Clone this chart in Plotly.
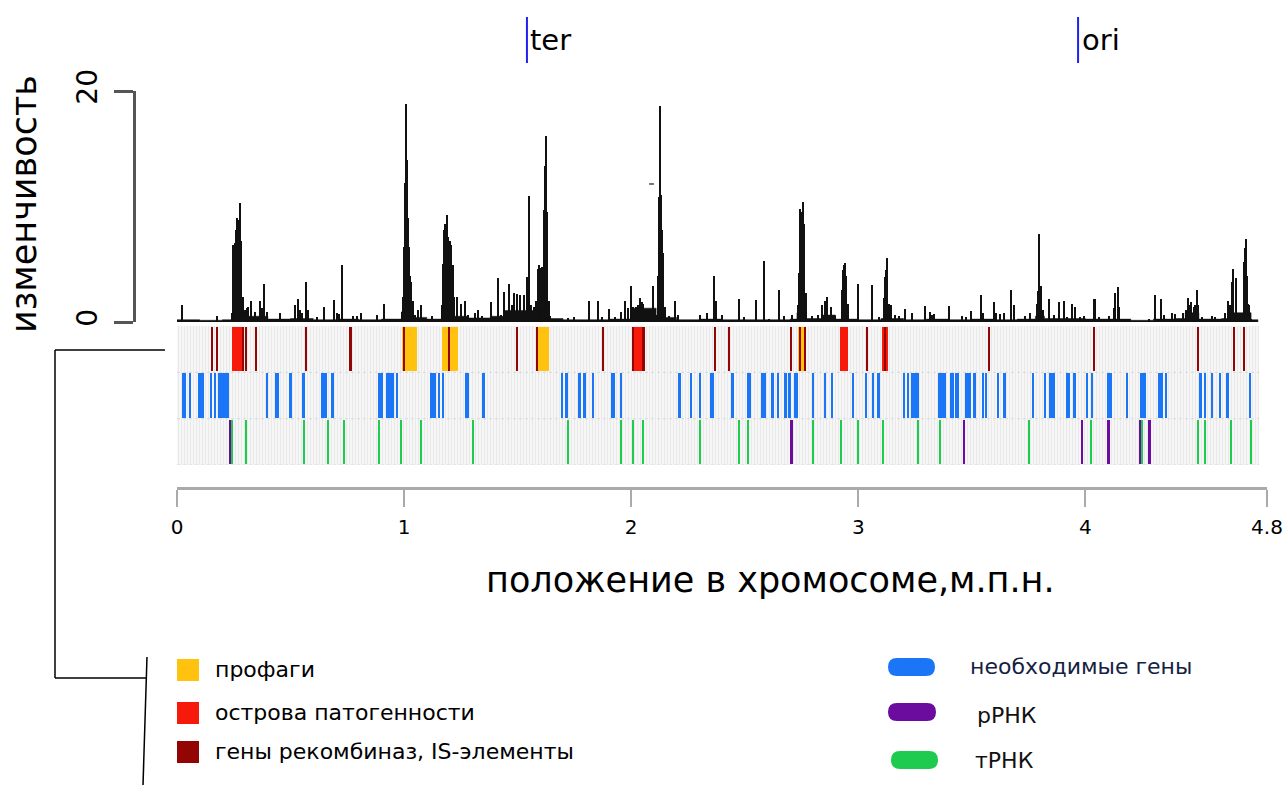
import plotly.graph_objects as go

W, H = 1287, 785
GENOME_LEN = 4.766

# ---- variability signal (spikes), Mb / value ----
sig_pos = [0.023, 0.175, 0.241, 0.248, 0.254, 0.260, 0.266, 0.270, 0.273, 0.278, 0.281, 0.289, 0.300, 0.307,
           0.314, 0.326, 0.344, 0.366, 0.376, 0.385, 0.395, 0.454, 0.520, 0.532, 0.542, 0.549, 0.568, 0.579,
           0.615, 0.649, 0.693, 0.703, 0.714, 0.728, 0.777, 0.791, 0.811, 0.880, 0.913, 0.953, 0.990, 0.997,
           1.001, 1.004, 1.007, 1.010, 1.013, 1.018, 1.022, 1.026, 1.032, 1.038, 1.048, 1.063, 1.075, 1.122,
           1.166, 1.173, 1.178, 1.182, 1.186, 1.191, 1.195, 1.201, 1.207, 1.214, 1.222, 1.232, 1.250, 1.269,
           1.283, 1.313, 1.327, 1.342, 1.382, 1.413, 1.427, 1.442, 1.460, 1.474, 1.486, 1.496, 1.511, 1.526,
           1.541, 1.548, 1.552, 1.559, 1.570, 1.580, 1.589, 1.595, 1.601, 1.607, 1.614, 1.618, 1.622, 1.626,
           1.630, 1.636, 1.643, 1.724, 1.750, 1.815, 1.852, 1.871, 1.903, 1.930, 1.956, 1.974, 1.985, 1.999,
           2.010, 2.021, 2.030, 2.040, 2.047, 2.054, 2.065, 2.076, 2.085, 2.096, 2.106, 2.113, 2.119, 2.123,
           2.126, 2.128, 2.132, 2.137, 2.141, 2.147, 2.165, 2.194, 2.208, 2.304, 2.333, 2.363, 2.373, 2.400,
           2.473, 2.495, 2.549, 2.585, 2.605, 2.649, 2.671, 2.708, 2.733, 2.737, 2.742, 2.744, 2.749, 2.753,
           2.756, 2.761, 2.763, 2.768, 2.796, 2.822, 2.840, 2.852, 2.862, 2.881, 2.899, 2.928, 2.934, 2.938,
           2.943, 2.947, 2.953, 2.957, 2.999, 3.060, 3.090, 3.112, 3.119, 3.123, 3.126, 3.134, 3.145, 3.163,
           3.178, 3.204, 3.236, 3.295, 3.314, 3.325, 3.335, 3.398, 3.457, 3.474, 3.498, 3.540, 3.548, 3.598,
           3.608, 3.626, 3.640, 3.671, 3.684, 3.736, 3.755, 3.787, 3.791, 3.797, 3.802, 3.806, 3.812, 3.838,
           3.861, 3.882, 3.905, 3.919, 3.941, 3.953, 3.978, 3.993, 4.037, 4.044, 4.059, 4.103, 4.125, 4.132,
           4.142, 4.147, 4.176, 4.279, 4.305, 4.333, 4.345, 4.382, 4.396, 4.429, 4.443, 4.452, 4.460, 4.467,
           4.477, 4.485, 4.492, 4.497, 4.514, 4.558, 4.573, 4.617, 4.629, 4.639, 4.645, 4.652, 4.662, 4.672,
           4.683, 4.697, 4.705, 4.709, 4.714, 4.717, 4.722, 4.728]
sig_val = [1.5, 0.5, 0.8, 6.7, 6.8, 8.0, 9.0, 8.5, 8.8, 10.3, 7.0, 2.2, 1.0, 1.2,
           1.3, 1.8, 0.9, 1.8, 1.2, 3.3, 0.9, 0.75, 1.5, 2.0, 1.0, 0.8, 3.5, 1.0,
           0.4, 1.3, 1.9, 0.8, 0.7, 4.9, 0.5, 0.5, 0.8, 0.6, 1.6, 0.3, 0.9, 2.2,
           6.5, 12.0, 18.9, 17.5, 14.0, 9.0, 6.5, 4.0, 3.5, 1.8, 0.6, 1.0, 1.5, 0.5,
           1.5, 5.0, 8.0, 8.5, 8.3, 9.3, 7.4, 7.0, 6.7, 4.9, 2.2, 2.2, 1.6, 1.8,
           0.6, 0.8, 1.0, 0.5, 1.7, 3.8, 0.6, 2.6, 3.3, 1.5, 2.5, 2.4, 2.3, 2.3,
           3.9, 6.0, 10.9, 1.5, 1.3, 1.8, 4.6, 4.9, 4.7, 4.8, 7.0, 9.7, 13.5, 16.1,
           9.5, 1.8, 0.5, 0.35, 0.45, 1.8, 1.8, 0.4, 1.1, 0.45, 0.9, 1.8, 1.2, 3.1,
           1.3, 1.3, 1.5, 2.1, 1.7, 1.6, 1.1, 0.9, 0.7, 3.1, 1.0, 0.6, 4.0, 10.8,
           14.0, 18.7, 11.0, 8.0, 6.0, 1.3, 0.5, 1.8, 0.6, 0.6, 0.75, 4.0, 1.8, 0.6,
           2.0, 0.4, 1.9, 5.3, 0.3, 2.8, 0.5, 0.6, 1.5, 4.2, 8.5, 9.8, 9.5, 9.0,
           10.4, 8.5, 7.0, 2.5, 0.5, 0.6, 1.5, 1.8, 2.2, 1.3, 0.5, 2.8, 4.5, 4.9,
           5.1, 4.0, 1.6, 1.5, 3.3, 3.2, 0.4, 2.1, 3.9, 4.5, 5.5, 1.6, 1.5, 0.6,
           0.5, 1.1, 0.8, 1.4, 0.9, 0.6, 0.7, 1.4, 0.5, 0.4, 0.95, 2.3, 0.8, 1.7,
           0.8, 0.7, 0.8, 2.8, 1.5, 0.5, 0.8, 1.6, 2.7, 7.6, 3.0, 3.1, 1.0, 2.0,
           0.6, 1.7, 1.8, 0.4, 1.6, 1.3, 0.4, 0.5, 2.0, 2.0, 0.4, 0.5, 1.2, 2.5,
           3.0, 1.3, 0.3, 0.3, 2.3, 2.0, 0.6, 0.8, 0.7, 0.8, 1.0, 2.1, 1.5, 1.7,
           1.3, 1.5, 2.8, 1.5, 0.4, 0.5, 0.4, 0.8, 1.8, 1.5, 3.5, 4.6, 3.8, 0.8,
           0.8, 5.2, 6.4, 7.2, 4.0, 1.6, 1.5, 0.3]

# low background level of the signal (step starts, Mb / value)
base_pos = [0.0, 0.1, 0.2, 0.245, 0.30, 0.40, 0.5, 0.6, 0.7, 0.8, 0.9, 0.99, 1.04, 1.1, 1.165, 1.22,
            1.28, 1.38, 1.44, 1.6, 1.7, 1.8, 1.9, 2.0, 2.11, 2.2, 2.3, 2.4, 2.5, 2.6, 2.7, 2.73,
            2.77, 2.84, 2.9, 3.0, 3.1, 3.2, 3.3, 3.4, 3.5, 3.6, 3.7, 3.78, 3.82, 3.9, 4.0, 4.1,
            4.2, 4.3, 4.4, 4.44, 4.5, 4.6, 4.63, 4.73, 4.76]
base_val = [0.2, 0.15, 0.2, 0.8, 0.5, 0.25, 0.3, 0.2, 0.25, 0.2, 0.25, 0.9, 0.4, 0.25, 1.2, 0.5,
            0.35, 0.5, 1.0, 0.3, 0.2, 0.2, 0.25, 1.2, 0.4, 0.2, 0.25, 0.2, 0.2, 0.2, 0.25, 0.8,
            0.3, 0.6, 0.25, 0.2, 0.3, 0.2, 0.25, 0.2, 0.25, 0.2, 0.25, 0.5, 0.3, 0.3, 0.25, 0.25,
            0.15, 0.25, 0.3, 0.8, 0.25, 0.3, 0.8, 0.2, 0.0]

dash_x = [2.079, 2.100]
dash_y = [11.95, 11.95]

# ---- genome features (Mb) ----
prophage_start = [0.993, 1.166, 1.580, 2.733]
prophage_end = [1.056, 1.237, 1.636, 2.770]
island_start = [0.241, 2.006, 2.921, 3.104]
island_end = [0.288, 2.047, 2.957, 3.131]
recomb_pos = [0.156, 0.178, 0.289, 0.304, 0.348, 0.567, 0.764, 1.001, 1.197, 1.496, 1.586, 1.877,
              2.009, 2.050, 2.058, 2.370, 2.432, 2.703, 2.743, 2.767, 3.038, 3.119, 3.577, 4.038,
              4.496, 4.653, 4.699]
ess_start = [0.023, 0.053, 0.093, 0.147, 0.163, 0.179, 0.392, 0.432, 0.495, 0.552, 0.636, 0.678,
             0.887, 0.921, 0.965, 1.115, 1.150, 1.167, 1.267, 1.344, 1.690, 1.713, 1.768, 1.790,
             1.828, 1.909, 1.949, 2.208, 2.257, 2.298, 2.347, 2.438, 2.511, 2.573, 2.615, 2.640,
             2.674, 2.695, 2.719, 2.796, 2.852, 2.880, 2.974, 3.031, 3.060, 3.081, 3.198, 3.215,
             3.232, 3.351, 3.405, 3.428, 3.468, 3.507, 3.543, 3.559, 3.612, 3.639, 3.765, 3.819,
             3.841, 3.916, 3.947, 4.001, 4.025, 4.094, 4.106, 4.179, 4.241, 4.322, 4.352, 4.502,
             4.521, 4.554, 4.587, 4.619, 4.721]
ess_end = [0.038, 0.060, 0.119, 0.154, 0.170, 0.231, 0.401, 0.451, 0.508, 0.562, 0.659, 0.690,
           0.909, 0.955, 0.974, 1.140, 1.160, 1.176, 1.285, 1.358, 1.699, 1.721, 1.780, 1.799,
           1.837, 1.930, 1.959, 2.219, 2.266, 2.307, 2.366, 2.454, 2.529, 2.593, 2.627, 2.649,
           2.686, 2.703, 2.734, 2.806, 2.860, 2.889, 2.981, 3.038, 3.069, 3.096, 3.208, 3.225,
           3.267, 3.388, 3.420, 3.442, 3.498, 3.520, 3.552, 3.568, 3.621, 3.649, 3.775, 3.828,
           3.868, 3.934, 3.959, 4.010, 4.034, 4.103, 4.118, 4.189, 4.267, 4.341, 4.361, 4.515,
           4.530, 4.562, 4.596, 4.631, 4.730]
rrna_pos = [0.233, 2.706, 3.466, 3.985, 4.101, 4.241, 4.281]
trna_pos = [0.244, 0.304, 0.559, 0.664, 0.736, 0.890, 0.985, 1.076, 1.304, 1.720, 1.954, 2.007,
            2.050, 2.304, 2.473, 2.514, 2.799, 2.924, 2.999, 3.107, 3.264, 3.361, 3.750, 4.023,
            4.248, 4.496, 4.526, 4.640, 4.731]

TER, ORI = 1.541, 3.968
x_ticks = [0, 1, 2, 3, 4, 4.8]
x_ticktext = ["0", "1", "2", "3", "4", "4.8"]

C_PRO, C_ISL, C_REC = "#ffc20e", "#f71a0a", "#930505"
C_ESS, C_RRNA, C_TRNA = "#1a76f7", "#6b0c9e", "#1fcb4f"
FONT = "DejaVu Sans"


def px(x):
    return x / W


def py(y):
    return 1 - y / H


fig = go.Figure()

# signal
fig.add_trace(go.Scatter(x=base_pos, y=base_val, mode="lines", line_shape="hv",
                         line=dict(color="#111", width=0.5), fill="tozeroy",
                         fillcolor="#111", xaxis="x", yaxis="y", hoverinfo="skip"))
fig.add_trace(go.Bar(x=sig_pos, y=sig_val, width=0.0045, marker=dict(color="#111", line=dict(width=0)),
                     xaxis="x", yaxis="y"))
fig.add_trace(go.Scatter(x=dash_x, y=dash_y, mode="lines", line=dict(color="#444", width=1.5),
                         xaxis="x", yaxis="y"))


def hbars(starts, ends, row, color, minw=0.0):
    widths = [max(e - s, minw) for s, e in zip(starts, ends)]
    fig.add_trace(go.Bar(orientation="h", y=[row] * len(starts), x=widths, base=starts,
                         width=0.96, marker=dict(color=color, line=dict(width=0)),
                         xaxis="x", yaxis="y2"))


def hlines(pos, row, color, w):
    fig.add_trace(go.Bar(orientation="h", y=[row] * len(pos), x=[w] * len(pos),
                         base=[p - w / 2 for p in pos], width=0.96,
                         marker=dict(color=color, line=dict(width=0)), xaxis="x", yaxis="y2"))


# track backgrounds
fig.add_trace(go.Bar(orientation="h", y=[0, 1, 2], x=[GENOME_LEN] * 3, base=[0, 0, 0], width=1.0,
                     marker=dict(color="#f5f5f5", line=dict(width=0),
                                 pattern=dict(shape="|", fgcolor="#e8e8e8", bgcolor="#f6f6f6",
                                              size=3, solidity=0.3)),
                     xaxis="x", yaxis="y2"))
hbars(prophage_start, prophage_end, 0, C_PRO)
hbars(island_start, island_end, 0, C_ISL)
hlines(recomb_pos, 0, C_REC, 0.009)
hbars(ess_start, ess_end, 1, C_ESS)
hlines(trna_pos, 2, C_TRNA, 0.009)
hlines(rrna_pos, 2, C_RRNA, 0.012)

shapes = []
# row separators
for yb in [0.5, 1.5, 2.5]:
    shapes.append(dict(type="line", xref="x", yref="y2", x0=0, x1=GENOME_LEN, y0=yb, y1=yb,
                       line=dict(color="#d9d9d9", width=1, dash="dot")))
# ter / ori markers
for xv in [TER, ORI]:
    shapes.append(dict(type="line", xref="x", yref="paper", x0=xv, x1=xv, y0=py(17), y1=py(63),
                       line=dict(color="#2020f0", width=2)))
# bracket
brk = [((165, 350), (55, 350)), ((55, 350), (55, 678)), ((55, 678), (146, 678)), ((147, 657), (143, 785))]
for (x0, y0), (x1, y1) in brk:
    shapes.append(dict(type="line", xref="paper", yref="paper", x0=px(x0), y0=py(y0), x1=px(x1), y1=py(y1),
                       line=dict(color="black", width=1.5)))
# left legend squares
for (y0, col) in [(659, C_PRO), (702, C_ISL), (741, C_REC)]:
    shapes.append(dict(type="rect", xref="paper", yref="paper", x0=px(177), x1=px(199), y0=py(y0),
                       y1=py(y0 + 22), fillcolor=col, line=dict(width=0)))


def pill(x0, x1, yc, h, col):
    r = h / 2
    t, b = yc - r, yc + r
    pts = [("M", x0 + r, t), ("L", x1 - r, t), ("Q", x1, t, x1, yc), ("Q", x1, b, x1 - r, b),
           ("L", x0 + r, b), ("Q", x0, b, x0, yc), ("Q", x0, t, x0 + r, t)]
    s = ""
    for p in pts:
        if p[0] == "Q":
            s += f"Q {px(p[1]):.5f},{py(p[2]):.5f} {px(p[3]):.5f},{py(p[4]):.5f} "
        else:
            s += f"{p[0]} {px(p[1]):.5f},{py(p[2]):.5f} "
    s += "Z"
    return dict(type="path", xref="paper", yref="paper", path=s, fillcolor=col, line=dict(width=0))


shapes.append(pill(888, 935, 667, 18, C_ESS))
shapes.append(pill(888, 936, 712, 18, C_RRNA))
shapes.append(pill(891, 938, 760, 18, C_TRNA))

ann = []


def add_text(txt, x, y, size, col="black", xanchor="center", angle=0, xref="paper", xshift=0):
    ann.append(dict(text=txt, x=x, y=y, xref=xref, yref="paper", xanchor=xanchor, yanchor="middle",
                    textangle=angle, xshift=xshift, showarrow=False,
                    font=dict(family=FONT, size=size, color=col)))


add_text("изменчивость", px(24), py(204), 35, angle=-90)
add_text("положение в хромосоме,м.п.н.", px(770), py(580), 35)
add_text("ter", TER, py(40), 29, xanchor="left", xref="x", xshift=1)
add_text("ori", ORI, py(40), 29, xanchor="left", xref="x", xshift=2)
for txt, yv in [("профаги", 669), ("острова патогенности", 712), ("гены рекомбиназ, IS-элементы", 751)]:
    add_text(txt, px(213), py(yv), 22, xanchor="left")
for txt, xv, yv, col in [("необходимые гены", 968, 666, "#15223f"), ("рРНК", 975, 715, "#111"),
                         ("тРНК", 973, 760, "#111")]:
    add_text(txt, px(xv), py(yv), 22, col=col, xanchor="left")

fig.update_layout(
    template="none",
    width=W, height=H, autosize=False, margin=dict(l=0, r=0, t=0, b=0, pad=0, autoexpand=False),
    paper_bgcolor="white", plot_bgcolor="rgba(0,0,0,0)",
    showlegend=False, barmode="overlay", bargap=0,
    font=dict(family=FONT, color="black"),
    xaxis=dict(domain=[px(177), px(1267)], range=[0, 4.8], anchor="free", position=py(488),
               automargin=False,
               showgrid=False, zeroline=False, showline=True, linecolor="#aaaaaa", linewidth=3,
               ticks="outside", ticklen=17, tickwidth=2, tickcolor="#aaaaaa",
               tickvals=x_ticks, ticktext=x_ticktext, tickfont=dict(family=FONT, size=20, color="black"),
               ticklabelstandoff=3),
    yaxis=dict(domain=[py(322), py(91)], range=[0, 20], anchor="free", position=px(134),
               automargin=False,
               showgrid=False, zeroline=False, showline=True, linecolor="#555555", linewidth=3,
               ticks="outside", ticklen=19, tickwidth=3, tickcolor="#555555",
               tickvals=[0, 20], ticktext=["0", "20"], tickangle=-90,
               tickfont=dict(family=FONT, size=28, color="black"), ticklabelstandoff=6),
    yaxis2=dict(domain=[py(465), py(326)], range=[2.5, -0.5], anchor="x", visible=False,
                automargin=False, showgrid=False, zeroline=False),
    shapes=shapes, annotations=ann,
)

fig.write_html("out.html", config={"displayModeBar": False, "responsive": False},
               post_script="document.body.style.margin='0';")
